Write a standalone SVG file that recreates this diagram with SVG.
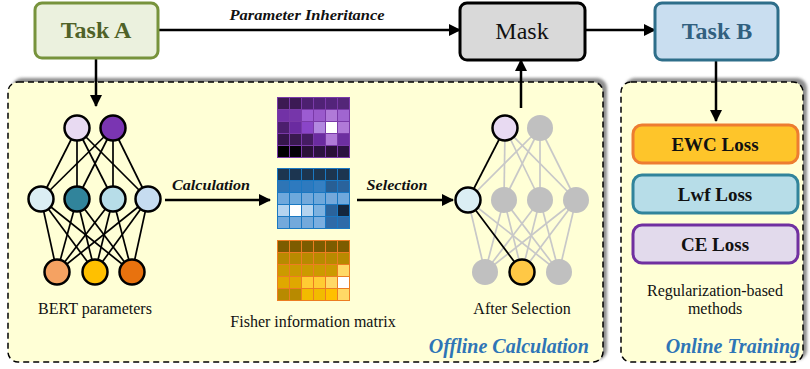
<svg xmlns="http://www.w3.org/2000/svg" width="810" height="369" viewBox="0 0 810 369">
<defs>
<marker id="ah" viewBox="0 0 12 12" refX="11" refY="6" markerWidth="12" markerHeight="12" markerUnits="userSpaceOnUse" orient="auto">
<path d="M0,0 L12,6 L0,12 z" fill="#000"/>
</marker>
<filter id="sh" x="-5%" y="-5%" width="110%" height="110%"><feGaussianBlur stdDeviation="1.5"/></filter>
</defs>
<style>
.t{font-family:"Liberation Serif","Times New Roman",serif}
.bi{font-family:"Liberation Serif","Times New Roman",serif;font-weight:bold;font-style:italic}
.lbl{font-size:16px;fill:#111}
.box{font-size:24px}
.ln{stroke:#000;stroke-width:2.5;fill:none}
.net{stroke:#000;stroke-width:1.7}
.gnet{stroke:#c8c8c8;stroke-width:1.7}
.nd{stroke:#000;stroke-width:2.5}
.gnd{fill:#c0c0c0}
.loss{font-size:19px;font-weight:bold;fill:#111}
.area{fill:#ffffd6;stroke:#000;stroke-width:1.5;stroke-dasharray:6,4}
.corner{font-size:20px;fill:#2e75b6}
</style>
<rect width="810" height="369" fill="#fff"/>

<!-- container shadows and areas -->
<g id="offline">
<rect x="12" y="78" width="595" height="282" rx="10" fill="#8c8c8c" filter="url(#sh)"/>
<rect x="8" y="82" width="595" height="280" rx="10" class="area"/>
<text x="589" y="353" text-anchor="end" class="bi corner">Offline Calculation</text>
</g>
<g id="online">
<rect x="625" y="78" width="182" height="282" rx="10" fill="#8c8c8c" filter="url(#sh)"/>
<rect x="621" y="82" width="182" height="280" rx="10" class="area"/>
<text x="800" y="353" text-anchor="end" class="bi corner">Online Training</text>
</g>

<!-- connectors -->
<g id="connectors">
<line x1="158" y1="30" x2="460" y2="30" class="ln" marker-end="url(#ah)"/>
<text x="307" y="20" text-anchor="middle" class="bi" font-size="15" fill="#111" textLength="155" lengthAdjust="spacingAndGlyphs">Parameter Inheritance</text>
<line x1="585" y1="30" x2="655" y2="30" class="ln" marker-end="url(#ah)"/>
<line x1="96" y1="58" x2="96" y2="106" class="ln" marker-end="url(#ah)"/>
<line x1="716" y1="60" x2="716" y2="121" class="ln" marker-end="url(#ah)"/>
<line x1="521" y1="108" x2="521" y2="60" class="ln" marker-end="url(#ah)"/>
<line x1="165" y1="200" x2="270" y2="200" class="ln" marker-end="url(#ah)"/>
<text x="211" y="190" text-anchor="middle" class="bi" font-size="15" fill="#111" textLength="78" lengthAdjust="spacingAndGlyphs">Calculation</text>
<line x1="357" y1="200" x2="453" y2="200" class="ln" marker-end="url(#ah)"/>
<text x="397" y="190" text-anchor="middle" class="bi" font-size="15" fill="#111" textLength="61" lengthAdjust="spacingAndGlyphs">Selection</text>
</g>

<!-- top boxes -->
<g id="taskA">
<rect x="35" y="3" width="123" height="55" rx="7" fill="#ebf1de" stroke="#77933c" stroke-width="3"/>
<text x="96" y="38" text-anchor="middle" class="t box" font-weight="bold" fill="#4f6228">Task A</text>
</g>
<g id="mask">
<rect x="460" y="3" width="125" height="57" rx="7" fill="#d9d9d9" stroke="#000" stroke-width="3"/>
<text x="522" y="39" text-anchor="middle" class="t box" fill="#111">Mask</text>
</g>
<g id="taskB">
<rect x="655" y="3" width="123" height="57" rx="7" fill="#c9def0" stroke="#2e6e8a" stroke-width="3"/>
<text x="717" y="39" text-anchor="middle" class="t box" font-weight="bold" fill="#31607f">Task B</text>
</g>

<!-- BERT network -->
<g id="bert">
<g class="net">
<line x1="77" y1="128" x2="41" y2="199"/><line x1="77" y1="128" x2="77" y2="199"/><line x1="77" y1="128" x2="113" y2="199"/><line x1="77" y1="128" x2="148" y2="199"/>
<line x1="113" y1="128" x2="41" y2="199"/><line x1="113" y1="128" x2="77" y2="199"/><line x1="113" y1="128" x2="113" y2="199"/><line x1="113" y1="128" x2="148" y2="199"/>
<line x1="41" y1="199" x2="57" y2="272"/><line x1="41" y1="199" x2="95" y2="272"/><line x1="41" y1="199" x2="132" y2="272"/>
<line x1="77" y1="199" x2="57" y2="272"/><line x1="77" y1="199" x2="95" y2="272"/><line x1="77" y1="199" x2="132" y2="272"/>
<line x1="113" y1="199" x2="57" y2="272"/><line x1="113" y1="199" x2="95" y2="272"/><line x1="113" y1="199" x2="132" y2="272"/>
<line x1="148" y1="199" x2="57" y2="272"/><line x1="148" y1="199" x2="95" y2="272"/><line x1="148" y1="199" x2="132" y2="272"/>
</g>
<circle cx="77" cy="128" r="12.5" class="nd" fill="#e8daf2"/>
<circle cx="113" cy="128" r="12.5" class="nd" fill="#7a35b2"/>
<circle cx="41" cy="199" r="12.5" class="nd" fill="#dbeef4"/>
<circle cx="77" cy="199" r="12.5" class="nd" fill="#31849b"/>
<circle cx="113" cy="199" r="12.5" class="nd" fill="#b7dde8"/>
<circle cx="148" cy="199" r="12.5" class="nd" fill="#c6dcf0"/>
<circle cx="57" cy="272" r="12.5" class="nd" fill="#f5a262"/>
<circle cx="95" cy="272" r="12.5" class="nd" fill="#ffc000"/>
<circle cx="132" cy="272" r="12.5" class="nd" fill="#e8720e"/>
<text x="95" y="314" text-anchor="middle" class="t lbl">BERT parameters</text>
</g>

<!-- Fisher matrices -->
<g id="fisher">
<g transform="translate(277,97)">
<rect width="73" height="61" fill="#7a3aa8"/>
<rect x="1" y="1" width="11" height="11" fill="#3c1a52"/><rect x="13" y="1" width="11" height="11" fill="#3c1a54"/><rect x="25" y="1" width="11" height="11" fill="#4d2070"/><rect x="37" y="1" width="11" height="11" fill="#502276"/><rect x="49" y="1" width="11" height="11" fill="#53247a"/><rect x="61" y="1" width="11" height="11" fill="#542678"/>
<rect x="1" y="13" width="11" height="11" fill="#7232a6"/><rect x="13" y="13" width="11" height="11" fill="#7636aa"/><rect x="25" y="13" width="11" height="11" fill="#9c5cd2"/><rect x="37" y="13" width="11" height="11" fill="#9a5acc"/><rect x="49" y="13" width="11" height="11" fill="#b07ad8"/><rect x="61" y="13" width="11" height="11" fill="#a066d0"/>
<rect x="1" y="25" width="11" height="11" fill="#4c1f6e"/><rect x="13" y="25" width="11" height="11" fill="#6a2ba0"/><rect x="25" y="25" width="11" height="11" fill="#8a45c8"/><rect x="37" y="25" width="11" height="11" fill="#b288e0"/><rect x="49" y="25" width="11" height="11" fill="#ffffff"/><rect x="61" y="25" width="11" height="11" fill="#b07ad8"/>
<rect x="1" y="37" width="11" height="11" fill="#36164c"/><rect x="13" y="37" width="11" height="11" fill="#3a1a50"/><rect x="25" y="37" width="11" height="11" fill="#451c62"/><rect x="37" y="37" width="11" height="11" fill="#6a2ba0"/><rect x="49" y="37" width="11" height="11" fill="#b07ad8"/><rect x="61" y="37" width="11" height="11" fill="#6d2fa0"/>
<rect x="1" y="49" width="11" height="11" fill="#000000"/><rect x="13" y="49" width="11" height="11" fill="#050208"/><rect x="25" y="49" width="11" height="11" fill="#2a1038"/><rect x="37" y="49" width="11" height="11" fill="#2c1240"/><rect x="49" y="49" width="11" height="11" fill="#2a1038"/><rect x="61" y="49" width="11" height="11" fill="#2c1240"/>
</g>
<g transform="translate(277,168)">
<rect width="73" height="61" fill="#1a78c2"/>
<rect x="1" y="1" width="11" height="11" fill="#1c3550"/><rect x="13" y="1" width="11" height="11" fill="#1c3550"/><rect x="25" y="1" width="11" height="11" fill="#1c3550"/><rect x="37" y="1" width="11" height="11" fill="#1c3550"/><rect x="49" y="1" width="11" height="11" fill="#1c3550"/><rect x="61" y="1" width="11" height="11" fill="#1c3550"/>
<rect x="1" y="13" width="11" height="11" fill="#2e75b6"/><rect x="13" y="13" width="11" height="11" fill="#2e7abf"/><rect x="25" y="13" width="11" height="11" fill="#2e7abf"/><rect x="37" y="13" width="11" height="11" fill="#3580c3"/><rect x="49" y="13" width="11" height="11" fill="#285f94"/><rect x="61" y="13" width="11" height="11" fill="#2a639c"/>
<rect x="1" y="25" width="11" height="11" fill="#6fa8dc"/><rect x="13" y="25" width="11" height="11" fill="#6ea9dc"/><rect x="25" y="25" width="11" height="11" fill="#73a9db"/><rect x="37" y="25" width="11" height="11" fill="#6ea8db"/><rect x="49" y="25" width="11" height="11" fill="#74a8da"/><rect x="61" y="25" width="11" height="11" fill="#6fa8dc"/>
<rect x="1" y="37" width="11" height="11" fill="#b4d3ef"/><rect x="13" y="37" width="11" height="11" fill="#ffffff"/><rect x="25" y="37" width="11" height="11" fill="#b4d3ef"/><rect x="37" y="37" width="11" height="11" fill="#7cb1e0"/><rect x="49" y="37" width="11" height="11" fill="#2a639c"/><rect x="61" y="37" width="11" height="11" fill="#14263d"/>
<rect x="1" y="49" width="11" height="11" fill="#73a9db"/><rect x="13" y="49" width="11" height="11" fill="#73a9db"/><rect x="25" y="49" width="11" height="11" fill="#73a9db"/><rect x="37" y="49" width="11" height="11" fill="#7aaee0"/><rect x="49" y="49" width="11" height="11" fill="#2e6aa8"/><rect x="61" y="49" width="11" height="11" fill="#2e6aa8"/>
</g>
<g transform="translate(277,240)">
<rect width="73" height="61" fill="#ec7d22"/>
<rect x="1" y="1" width="11" height="11" fill="#7d5c00"/><rect x="13" y="1" width="11" height="11" fill="#7d5c00"/><rect x="25" y="1" width="11" height="11" fill="#7d5c00"/><rect x="37" y="1" width="11" height="11" fill="#7d5c00"/><rect x="49" y="1" width="11" height="11" fill="#7d5c00"/><rect x="61" y="1" width="11" height="11" fill="#7d5c00"/>
<rect x="1" y="13" width="11" height="11" fill="#b88a00"/><rect x="13" y="13" width="11" height="11" fill="#b88a00"/><rect x="25" y="13" width="11" height="11" fill="#b88a00"/><rect x="37" y="13" width="11" height="11" fill="#b88a00"/><rect x="49" y="13" width="11" height="11" fill="#b88a00"/><rect x="61" y="13" width="11" height="11" fill="#b88a00"/>
<rect x="1" y="25" width="11" height="11" fill="#cc9a00"/><rect x="13" y="25" width="11" height="11" fill="#cc9a00"/><rect x="25" y="25" width="11" height="11" fill="#cc9a00"/><rect x="37" y="25" width="11" height="11" fill="#cc9a00"/><rect x="49" y="25" width="11" height="11" fill="#cc9a00"/><rect x="61" y="25" width="11" height="11" fill="#ffd966"/>
<rect x="1" y="37" width="11" height="11" fill="#e0a800"/><rect x="13" y="37" width="11" height="11" fill="#e0a800"/><rect x="25" y="37" width="11" height="11" fill="#ffcc33"/><rect x="37" y="37" width="11" height="11" fill="#ffcc33"/><rect x="49" y="37" width="11" height="11" fill="#ffd966"/><rect x="61" y="37" width="11" height="11" fill="#ffffff"/>
<rect x="1" y="49" width="11" height="11" fill="#b88a00"/><rect x="13" y="49" width="11" height="11" fill="#b88a00"/><rect x="25" y="49" width="11" height="11" fill="#f2bb00"/><rect x="37" y="49" width="11" height="11" fill="#f2bb00"/><rect x="49" y="49" width="11" height="11" fill="#ffc000"/><rect x="61" y="49" width="11" height="11" fill="#ffd966"/>
</g>
<text x="313" y="327" text-anchor="middle" class="t lbl">Fisher information matrix</text>
</g>

<!-- After selection network -->
<g id="after">
<g class="gnet">
<line x1="505" y1="128" x2="504" y2="200"/><line x1="505" y1="128" x2="540" y2="200"/><line x1="505" y1="128" x2="576" y2="200"/>
<line x1="540" y1="128" x2="468" y2="200"/><line x1="540" y1="128" x2="504" y2="200"/><line x1="540" y1="128" x2="540" y2="200"/><line x1="540" y1="128" x2="576" y2="200"/>
<line x1="468" y1="200" x2="485" y2="272"/><line x1="468" y1="200" x2="559" y2="272"/>
<line x1="504" y1="200" x2="485" y2="272"/><line x1="504" y1="200" x2="522" y2="272"/><line x1="504" y1="200" x2="559" y2="272"/>
<line x1="540" y1="200" x2="485" y2="272"/><line x1="540" y1="200" x2="522" y2="272"/><line x1="540" y1="200" x2="559" y2="272"/>
<line x1="576" y1="200" x2="485" y2="272"/><line x1="576" y1="200" x2="522" y2="272"/><line x1="576" y1="200" x2="559" y2="272"/>
</g>
<g class="net">
<line x1="505" y1="128" x2="468" y2="200"/>
<line x1="468" y1="200" x2="522" y2="272"/>
</g>
<circle cx="505" cy="128" r="12.5" class="nd" fill="#e8daf2"/>
<circle cx="540" cy="128" r="13" class="gnd"/>
<circle cx="468" cy="200" r="12.5" class="nd" fill="#dbeef4"/>
<circle cx="504" cy="200" r="13" class="gnd"/>
<circle cx="540" cy="200" r="13" class="gnd"/>
<circle cx="576" cy="200" r="13" class="gnd"/>
<circle cx="485" cy="272" r="13" class="gnd"/>
<circle cx="522" cy="272" r="12.5" class="nd" fill="#ffc845"/>
<circle cx="559" cy="272" r="13" class="gnd"/>
<text x="522" y="314" text-anchor="middle" class="t lbl">After Selection</text>
</g>

<!-- loss boxes -->
<g id="ewc">
<rect x="633" y="125" width="165" height="38" rx="9" fill="#fec52a" stroke="#ed7d31" stroke-width="3"/>
<text x="715" y="151" text-anchor="middle" class="t loss">EWC Loss</text>
</g>
<g id="lwf">
<rect x="633" y="175" width="165" height="38" rx="9" fill="#b7dde8" stroke="#31849b" stroke-width="3"/>
<text x="715" y="201" text-anchor="middle" class="t loss">Lwf Loss</text>
</g>
<g id="ce">
<rect x="633" y="225" width="165" height="38" rx="9" fill="#e2daec" stroke="#7030a0" stroke-width="3"/>
<text x="715" y="251" text-anchor="middle" class="t loss">CE Loss</text>
</g>
<g id="reg">
<text x="715" y="296" text-anchor="middle" class="t lbl">Regularization-based</text>
<text x="715" y="314" text-anchor="middle" class="t lbl">methods</text>
</g>
</svg>
